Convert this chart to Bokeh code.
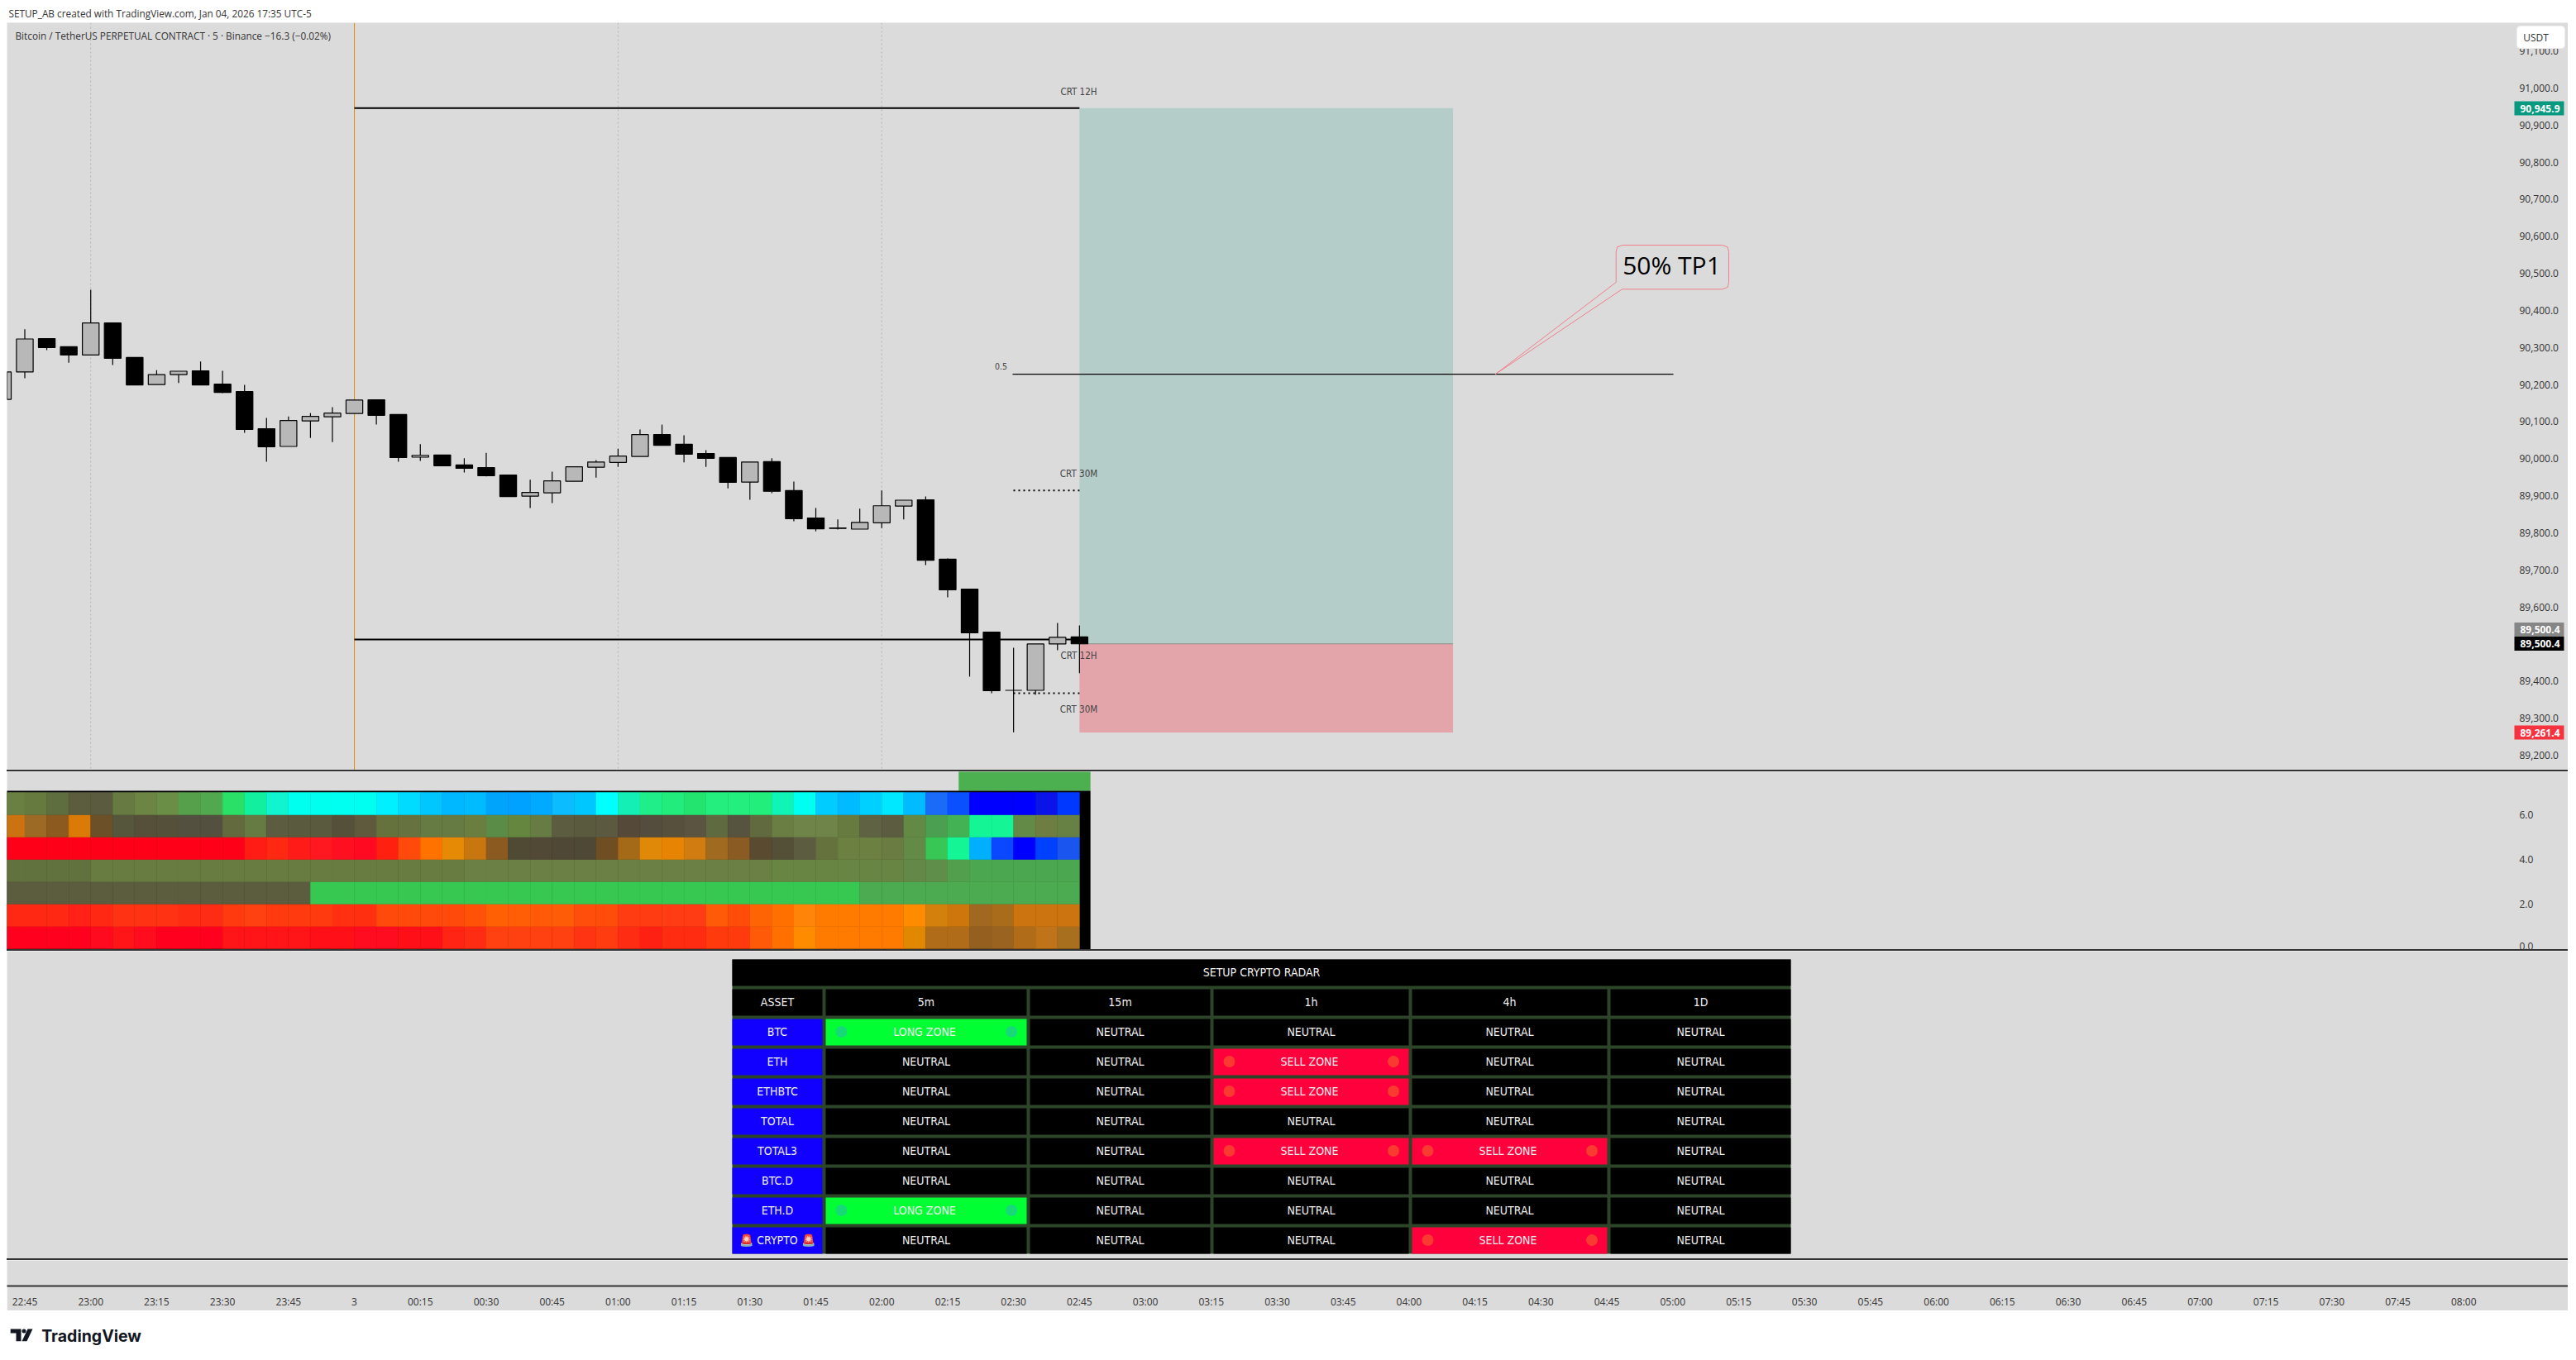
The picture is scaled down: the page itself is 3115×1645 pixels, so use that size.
from bokeh.plotting import figure
from bokeh.layouts import column
from bokeh.models import Range1d, FixedTicker, LinearAxis, Spacer, Span, NumeralTickFormatter
from bokeh.core.properties import value
from bokeh.embed import file_html
from bokeh.resources import INLINE

# ---------- data ----------
bars   = list(range(-1, 49))
opens  = [90160,90234,90324,90302,90280,90366,90273,90200,90227,90237,90201,90181,90081,90033,90102,90113,90122,90159,90119,90004,90010,89983,89976,89956,89899,89908,89939,89977,89990,90006,90065,90039,90014,90003,89937,89992,89914,89840,89813,89810,89827,89872,89889,89729,89648,89532,89375,89375,89500,89519]
highs  = [90234,90349,90324,90302,90456,90366,90273,90239,90236,90262,90237,90199,90110,90114,90123,90139,90158,90159,90119,90039,90010,90001,90016,89956,89943,89965,89978,89996,90027,90079,90092,90063,90023,90003,89991,90001,89938,89867,89836,89865,89914,89888,89898,89731,89648,89532,89490,89500,89557,89550]
lows   = [90160,90217,90293,90259,90280,90253,90199,90200,90204,90199,90177,90070,89992,90033,90056,90045,90122,90092,89992,89994,89981,89963,89952,89898,89867,89880,89939,89949,89978,90006,90036,89990,89978,89920,89889,89907,89831,89804,89809,89810,89813,89836,89713,89626,89412,89367,89262,89363,89483,89421]
closes = [90234,90323,90300,90280,90366,90271,90199,90227,90236,90199,90179,90079,90032,90103,90114,90123,90158,90117,90003,90009,89981,89974,89954,89898,89909,89940,89978,89991,90007,90065,90036,90012,90001,89936,89991,89912,89838,89811,89812,89828,89873,89888,89726,89646,89530,89374,89375,89500,89518,89500.4]

entry_price, tp_price, sl_price = 89500.4, 90945.9, 89261.4
crt12_high, crt12_low = 90945.9, 89512
crt30_high, crt30_low = 89914, 89367
mid_level = 90228

price_ticks = [89200,89300,89400,89500,89600,89700,89800,89900,90000,90100,90200,90300,90400,90500,90600,90700,90800,90900,91000,91100]
heat_ticks = [0, 2, 4, 6]
time_ticks = list(range(0, 114, 3))
time_labels = ["22:45","23:00","23:15","23:30","23:45","3","00:15","00:30","00:45","01:00","01:15","01:30","01:45","02:00","02:15","02:30","02:45","03:00","03:15","03:30","03:45","04:00","04:15","04:30","04:45","05:00","05:15","05:30","05:45","06:00","06:15","06:30","06:45","07:00","07:15","07:30","07:45","08:00"]

row6 = ["#6a8043","#66793f","#5f6e3e","#5c5c3f","#5b5b3f","#667a41","#6c8444","#6b8e46","#57a04b","#52a84f","#2ae066","#12f09f","#10f5d0","#00ffef","#00ffef","#00fff0","#00fff0","#00f0ff","#00dcff","#00c8ff","#00b8ff","#00bbff","#00a5fb","#00a2ff","#00aaff","#0bbdff","#00c8ff","#00ffff","#14f0b5","#20ee88","#22ec7c","#24e470","#24ee7e","#24ee7e","#22ee7c","#10f5b5","#00fff0","#00ccff","#00bbff","#00d0ff","#00e8ff","#00bbff","#1a6cf8","#0a50ff","#0000ff","#0000ff","#0000ff","#0a14e8","#0038ff"]
row5 = ["#cb7311","#9c6a24","#8c5a1f","#dc7a08","#6c5028","#56563c","#56503a","#55503a","#545040","#545040","#636a3e","#667a44","#5c5c40","#5a5a3e","#5a5a3e","#55503a","#5f5a3e","#66723e","#667340","#667a44","#667a44","#6a7e42","#5a8c48","#65863f","#667c44","#5c5c40","#5a5a3e","#5b5a40","#55493a","#544c3c","#56503c","#5a5440","#606a40","#56533e","#606a3e","#6a7e44","#6e8448","#6e8448","#677a40","#5f6344","#5c5c40","#638a44","#4aa050","#42b255","#14f595","#14f595","#648a48","#6e7e42","#678044"]
row4 = ["#ff0019"]*11 + ["#ff1c14","#ff2812","#ff1c18","#ff1820","#ff1020","#ff0a20","#ff2010","#ff4a0c","#ff7200","#e68a06","#c87610","#8a5a20","#4f4a34","#524836","#504836","#4e4836","#704e24","#a46a18","#e08808","#e88404","#d07c10","#a06a20","#8a5c24","#5a4a30","#545038","#5c5c40","#66723e","#6c8042","#6c8042","#6a7c42","#648a48","#38c755","#14f595","#00b0ff","#0a48ff","#0000ff","#0040ff","#1a55f0"]
row3 = ["#62723f"]*4 + ["#687c42"]*17 + ["#6a8044"]*14 + ["#688544"]*6 + ["#648848","#5e8e4a","#52a04e","#4ca850","#4ca850","#4ca850","#4ca850","#4ca850"]
row2 = ["#5c5c3f"]*14 + ["#37c852"]*25 + ["#4caa50"]*10
row1 = ["#ff2812","#ff2812","#ff2812","#ff2018","#ff2812","#ff3214","#ff3214","#ff3214","#ff2c14","#ff2c14","#ff3a0f","#ff4010","#ff3a0e","#ff3a0e","#ff3a0e","#ff3012","#ff3010","#ff4a0c","#ff4a0c","#ff4a0c","#ff4a0c","#ff5208","#ff6004","#ff5e06","#ff5a08","#ff5c08","#ff4e0c","#ff4c0a","#ff3c12","#ff3c12","#ff3c14","#ff3c14","#ff5a08","#ff4c08","#ff6404","#ff7000","#ff8408","#ff7b00","#ff7b00","#ff7b00","#ff7b00","#ff8c00","#d4800c","#cc760c","#a06820","#a86c1a","#cc7410","#cc7410","#cc7410"]
row0 = ["#ff001e","#ff001e","#ff001e","#ff001e","#ff0a1e","#ff1418","#ff0c1e","#ff001e","#ff001e","#ff001e","#ff1418","#ff1418","#ff1418","#ff1418","#ff1018","#ff1018","#ff0c20","#ff0c20","#ff1018","#ff1018","#ff2414","#ff2c14","#ff4010","#ff4010","#ff4010","#ff4010","#ff3412","#ff3c10","#ff2c14","#ff2014","#ff2c12","#ff2c12","#ff3a0c","#ff3a0c","#ff5a08","#ff7000","#ff8c00","#ff7b00","#ff7b00","#ff7b00","#ff7b00","#e08800","#b06c18","#b06c18","#946020","#9a6420","#b06c18","#c0741a","#a8701e"]
heat_rows = [row0, row1, row2, row3, row4, row5, row6]

table_title = "SETUP CRYPTO RADAR"
table_head = ["ASSET", "5m", "15m", "1h", "4h", "1D"]
assets = ["BTC", "ETH", "ETHBTC", "TOTAL", "TOTAL3", "BTC.D", "ETH.D", "\U0001F6A8 CRYPTO \U0001F6A8"]
status = [
    ["L","N","N","N","N"],
    ["N","N","S","N","N"],
    ["N","N","S","N","N"],
    ["N","N","N","N","N"],
    ["N","N","S","S","N"],
    ["N","N","N","N","N"],
    ["L","N","N","N","N"],
    ["N","N","N","S","N"],
]
status_text = {"N": "NEUTRAL", "L": "LONG ZONE", "S": "SELL ZONE"}

# ---------- layout constants ----------
W = 3097
BG = "#dbdbdb"
INK = "#333333"
FONT = "Open Sans"
NARROW = "DejaVu Sans Condensed, Roboto"

PX_BAR0, PX_PER_BAR = 29.5, 26.57
PX_P0, PX_PER_PT = 106.0, 0.4483
def X(px): return (px - PX_BAR0) / PX_PER_BAR
def Y(py): return 91000 - (py - PX_P0) / PX_PER_PT

x_shared = Range1d(X(8), X(3105))
AXIS_AT = X(3040)

def base(h, **kw):
    f = figure(width=W, height=h, output_backend="svg", toolbar_location=None,
               min_border=0, background_fill_color=BG, border_fill_color=BG,
               outline_line_color=None, **kw)
    f.grid.visible = False
    return f

def sep():
    return Spacer(width=W, height=2, styles={"background-color": INK})

def hide_axes(f):
    f.xaxis.visible = False
    f.yaxis.visible = False

def right_axis(f, ticks, fmt):
    a = LinearAxis(ticker=FixedTicker(ticks=ticks), formatter=NumeralTickFormatter(format=fmt), fixed_location=AXIS_AT)
    a.axis_line_color = None
    a.major_tick_line_color = None
    a.minor_tick_line_color = None
    a.major_label_standoff = 0
    a.major_label_text_font = FONT
    a.major_label_text_font_size = "12px"
    a.major_label_text_color = INK
    f.add_layout(a, "right")

# ---------- header ----------
head = figure(width=W, height=19, output_backend="svg", toolbar_location=None, min_border=0,
              x_range=(8, 3105), y_range=(27, 8), background_fill_color="white",
              border_fill_color="white", outline_line_color=None)
head.grid.visible = False
hide_axes(head)
head.text([10], [15], text=["SETUP_AB created with TradingView.com, Jan 04, 2026 17:35 UTC-5"],
          text_font=value(FONT), text_font_size="11.8px", text_color=INK, text_baseline="middle")

# ---------- main price pane ----------
main = base(904, x_range=x_shared, y_range=Range1d(Y(931), Y(27)), y_axis_location=None)
main.xaxis.visible = False
right_axis(main, price_ticks, "0,0.0")

for b in (3, 27, 39):
    main.add_layout(Span(location=b, dimension="height", line_color="#b4b4b4", line_width=1, line_dash="2 3", level="underlay"))
main.add_layout(Span(location=15, dimension="height", line_color="#e08c10", line_width=1, level="underlay"))

main.quad(left=[48], right=[65], bottom=[entry_price], top=[tp_price], fill_color="#b5cdc9", line_color=None)
main.quad(left=[48], right=[65], bottom=[sl_price], top=[entry_price], fill_color="#e4a5aa", line_color=None)
main.segment([48], [entry_price], [65], [entry_price], line_color="#8c8c8c", line_width=1)

main.segment([15, 15], [crt12_high, crt12_low], [48, 48], [crt12_high, crt12_low], line_color="black", line_width=2)
main.segment([X(1225), X(1225)], [crt30_high, crt30_low], [48, 48], [crt30_high, crt30_low],
             line_color="black", line_width=2, line_dash="2 4")
main.segment([X(1224)], [mid_level], [X(2023)], [mid_level], line_color="black", line_width=1.3)

main.segment(bars, highs, bars, lows, line_color="black", line_width=1.2)
up = [i for i in range(len(bars)) if closes[i] > opens[i]]
dn = [i for i in range(len(bars)) if closes[i] <= opens[i]]
main.vbar([bars[i] for i in up], 0.76, [opens[i] for i in up], [closes[i] for i in up],
          fill_color="#b8b8b8", line_color="black", line_width=1.2)
main.vbar([bars[i] for i in dn], 0.76, [opens[i] for i in dn], [closes[i] for i in dn],
          fill_color="black", line_color="black", line_width=1.2)

# texts in the pane
txt = dict(text_font=value(FONT), text_baseline="middle")
narrow = dict(text_font=value(NARROW), text_baseline="middle")
main.text([X(18)], [Y(42)], text=["Bitcoin / TetherUS PERPETUAL CONTRACT \u00b7 5 \u00b7 Binance  \u221216.3 (\u22120.02%)"],
          text_font_size="11.8px", text_color=INK, **txt)
crt_x = [X(1304)] * 4
crt_y = [Y(110), Y(572), Y(792.7), Y(857.7)]
main.text(crt_x, crt_y, text=["CRT 12H", "CRT 30M", "CRT 12H", "CRT 30M"], text_align="center",
          text_font_size="11.5px", text_color="#444444", **narrow)
main.text([X(1210)], [Y(442)], text=["0.5"], text_align="center", text_font_size="10.5px", text_color="#444444", **narrow)

# callout
cx = [1808, 1953.7, 1953.7, 1955.2, 1961.7, 2082, 2088.5, 2090, 2090, 2088.5, 2082, 1961, 1808]
cy = [452, 341, 304, 298.3, 296, 296, 298.3, 304, 341.3, 347, 349.3, 349.3, 452]
main.line([X(v) for v in cx], [Y(v) for v in cy], line_color="#f0808c", line_width=1)
main.text([X(2021)], [Y(320)], text=["50% TP1"], text_align="center", text_font_size="30px", text_color="black", **txt)

# price tags and unit button (above the axis labels)
def tag(py, s, color):
    main.quad(left=[X(3040)], right=[X(3100)], top=[Y(py - 8.5)], bottom=[Y(py + 8.5)],
              fill_color=color, line_color=None, level="annotation")
    main.text([X(3047)], [Y(py)], text=[s], text_color="white", text_font_size="12px",
              text_font_style="bold", level="annotation", **txt)
tag(130.5, "90,945.9", "#089a80")
tag(761, "89,500.4", "#868686")
tag(778, "89,500.4", "#000000")
tag(885.5, "89,261.4", "#f7323f")
bx = [3047, 3097, 3100, 3101, 3101, 3100, 3097, 3047, 3044, 3043, 3043, 3044]
by = [31, 31, 32, 35, 54, 57, 58, 58, 57, 54, 35, 32]
main.patch([X(v) for v in bx], [Y(v) for v in by], fill_color="white", line_color="#eeeeee", line_width=1, level="annotation")
main.text([X(3066)], [Y(44.5)], text=["USDT"], text_align="center", text_color=INK, text_font_size="12px",
          level="annotation", **txt)

# ---------- heat pane ----------
HV0, HPX = 1147.0, 27.0
heat = base(215, x_range=x_shared, y_range=Range1d((HV0 - 1148) / HPX, (HV0 - 933) / HPX), y_axis_location=None)
heat.xaxis.visible = False
right_axis(heat, heat_ticks, "0.0")

heat.quad(left=[42.5], right=[48.5], bottom=[7.07], top=[8], fill_color="#4caf50", line_color=None)
heat.quad(left=[-2], right=[48.5], bottom=[-1], top=[7.07], fill_color="black", line_color=None)
for rv, colors in enumerate(heat_rows):
    lefts = [k - 1 for k in range(len(colors))]
    rights = [k for k in range(len(colors))]
    heat.quad(left=lefts, right=rights, bottom=[rv] * len(colors), top=[rv + 1] * len(colors),
              fill_color=colors, line_color=colors, line_width=0.5)

# ---------- table pane ----------
tbl = base(372, x_range=(8, 3105), y_range=(1522, 1150))
hide_axes(tbl)
col_l = [885, 998, 1245, 1467, 1707, 1947]
col_r = [994, 1241, 1463, 1703, 1943, 2165]
GRID = "#2c4427"
tbl.quad(left=[885], right=[2165], top=[1160], bottom=[1516], fill_color=GRID, line_color=None)
tbl.quad(left=[885], right=[2165], top=[1160], bottom=[1192], fill_color="black", line_color=None)
tt = dict(text_font=value(NARROW), text_font_size="14px", text_color="#f0f0f0", text_baseline="middle", text_align="center")
tbl.text([1525], [1175.5], text=[table_title], **tt)
tbl.quad(left=col_l, right=col_r, top=[1196] * 6, bottom=[1228] * 6, fill_color="black", line_color=None)
tbl.text([(a + b) / 2 for a, b in zip(col_l, col_r)], [1211.5] * 6, text=table_head, **tt)
cell_fill = {"N": "#000000", "L": "#00ff33", "S": "#ff003c"}
dot_fill = {"L": "#18d97a", "S": "#f83a30"}
for r_i, (asset, row) in enumerate(zip(assets, status)):
    top = 1232 + 36 * r_i
    tbl.quad(left=[col_l[0]], right=[col_r[0]], top=[top], bottom=[top + 32], fill_color="#1100ff", line_color=None)
    tbl.text([(col_l[0] + col_r[0]) / 2], [top + 15.5], text=[asset], **tt)
    for c_i, s in enumerate(row):
        l, rr = col_l[c_i + 1], col_r[c_i + 1]
        tbl.quad(left=[l], right=[rr], top=[top], bottom=[top + 32], fill_color=cell_fill[s], line_color=None)
        shift = 0 if s == "N" else -2
        tbl.text([(l + rr) / 2 + shift], [top + 15.5], text=[status_text[s]], **tt)
        if s != "N":
            tbl.scatter([l + 19, rr - 18.5], [top + 15.5] * 2, size=14, fill_color=dot_fill[s], line_color=None)

# ---------- time pane ----------
tim = base(61, x_range=x_shared, y_range=Range1d(0, 1))
tim.min_border_bottom = 28
tim.yaxis.visible = False
tim.xaxis.ticker = FixedTicker(ticks=time_ticks)
tim.xaxis.major_label_overrides = dict(zip(time_ticks, time_labels))
tim.xaxis.axis_line_color = INK
tim.xaxis.axis_line_width = 2
tim.xaxis.major_tick_line_color = None
tim.xaxis.minor_tick_line_color = None
tim.xaxis.major_label_standoff = 4
tim.xaxis.major_label_text_font = FONT
tim.xaxis.major_label_text_font_size = "12px"
tim.xaxis.major_label_text_color = INK

# ---------- footer ----------
foot = figure(width=W, height=52, output_backend="svg", toolbar_location=None, min_border=0,
              x_range=(8, 3105), y_range=(1637, 1585), background_fill_color="white",
              border_fill_color="white", outline_line_color=None)
foot.grid.visible = False
hide_axes(foot)
LOGO = "#131722"
foot.patch([12.2, 25, 25, 19, 19, 12.2], [1607, 1607, 1621.7, 1621.7, 1612, 1612], fill_color=LOGO, line_color=None)
foot.scatter([28.5], [1609.5], size=5, fill_color=LOGO, line_color=None)
foot.patch([33, 39, 32, 26], [1607, 1607, 1621.7, 1621.7], fill_color=LOGO, line_color=None)
foot.text([49.7], [1615], text=["TradingView"], text_font=value("Inter"), text_font_size="19.5px",
          text_color=LOGO, text_baseline="middle", text_font_style="bold")

page = column(head, main, sep(), heat, sep(), tbl, sep(), tim, foot, spacing=0, margin=(8, 0, 0, 8))
open("out.html", "w").write(file_html(page, INLINE))
